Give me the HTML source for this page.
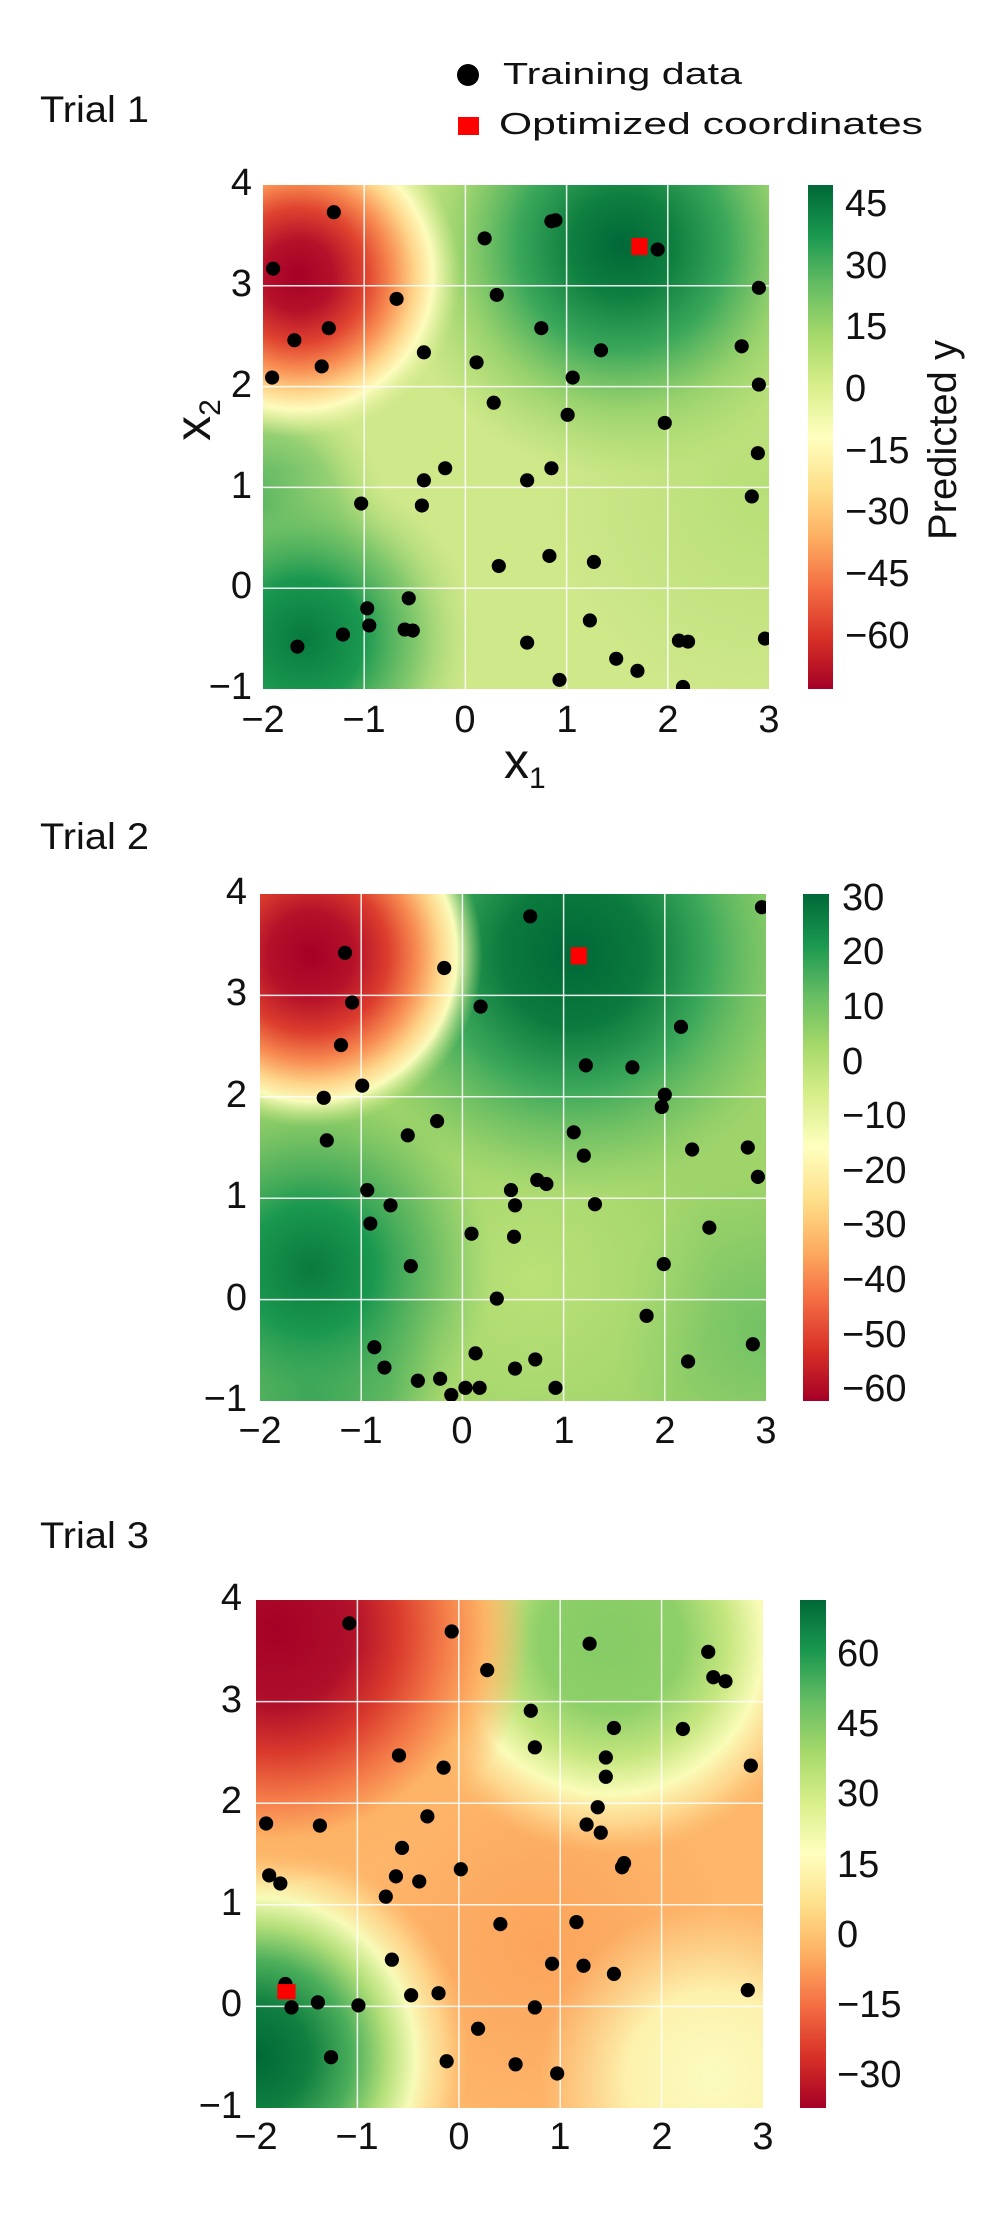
<!DOCTYPE html>
<html><head><meta charset="utf-8"><style>
html,body{margin:0;padding:0;background:#fff;}
svg text{font-family:"Liberation Sans",sans-serif;fill:#111;}
</style></head><body>
<svg width="1000" height="2211" viewBox="0 0 1000 2211" xmlns="http://www.w3.org/2000/svg">
<defs>
<linearGradient id="cmap" x1="0" y1="1" x2="0" y2="0">
<stop offset="0" stop-color="#a50026"/><stop offset="0.1" stop-color="#d73027"/><stop offset="0.2" stop-color="#f46d43"/><stop offset="0.3" stop-color="#fdae61"/><stop offset="0.4" stop-color="#fee08b"/><stop offset="0.5" stop-color="#ffffbf"/><stop offset="0.6" stop-color="#d9ef8b"/><stop offset="0.7" stop-color="#a6d96a"/><stop offset="0.8" stop-color="#66bd63"/><stop offset="0.9" stop-color="#1a9850"/><stop offset="1" stop-color="#006837"/>
</linearGradient>
<!-- plot1 -->
<radialGradient id="p1g1" gradientUnits="userSpaceOnUse" cx="1.55" cy="-3.4" r="2.3"><stop offset="0" stop-color="#006837"/><stop offset="0.22" stop-color="#0f7f40"/><stop offset="0.45" stop-color="#3aa75a"/><stop offset="0.7" stop-color="#8ccd67" stop-opacity="0.8"/><stop offset="1" stop-color="#a6d96a" stop-opacity="0"/></radialGradient>
<radialGradient id="p1g2" gradientUnits="userSpaceOnUse" cx="-1.6" cy="0.5" r="1.7"><stop offset="0" stop-color="#077a3d"/><stop offset="0.35" stop-color="#1a9850"/><stop offset="0.65" stop-color="#6cbf64" stop-opacity="0.8"/><stop offset="1" stop-color="#b5de7a" stop-opacity="0"/></radialGradient>
<radialGradient id="p1g4" gradientUnits="userSpaceOnUse" cx="-2.0" cy="-0.8" r="1.2"><stop offset="0" stop-color="#3aa75a"/><stop offset="0.6" stop-color="#6cbf64" stop-opacity="0.6"/><stop offset="1" stop-color="#a6d96a" stop-opacity="0"/></radialGradient>
<radialGradient id="p1g3" gradientUnits="userSpaceOnUse" cx="3" cy="-1" r="2.2"><stop offset="0" stop-color="#b0dc72" stop-opacity="0.8"/><stop offset="1" stop-color="#b0dc72" stop-opacity="0"/></radialGradient>
<radialGradient id="p1r" gradientUnits="userSpaceOnUse" cx="-1.65" cy="-3.1" r="1.6"><stop offset="0" stop-color="#a50026"/><stop offset="0.22" stop-color="#b5112a"/><stop offset="0.42" stop-color="#e0432f"/><stop offset="0.58" stop-color="#f88d52"/><stop offset="0.72" stop-color="#fed58a"/><stop offset="0.83" stop-color="#fdfcbd"/><stop offset="1" stop-color="#e0f09b" stop-opacity="0"/></radialGradient>
<!-- plot2 -->
<radialGradient id="p2g1" gradientUnits="userSpaceOnUse" cx="1.1" cy="-3.4" r="2.4"><stop offset="0" stop-color="#006837"/><stop offset="0.3" stop-color="#0c7b3e"/><stop offset="0.55" stop-color="#3aa75a"/><stop offset="0.8" stop-color="#6cbf64" stop-opacity="0.6"/><stop offset="1" stop-color="#8ccd67" stop-opacity="0"/></radialGradient>
<radialGradient id="p2g3" gradientUnits="userSpaceOnUse" cx="-1.5" cy="-0.3" r="1.8"><stop offset="0" stop-color="#0a7a3c"/><stop offset="0.35" stop-color="#1a9850"/><stop offset="0.65" stop-color="#4cae5c" stop-opacity="0.7"/><stop offset="1" stop-color="#6cbf64" stop-opacity="0"/></radialGradient>
<radialGradient id="p2g4" gradientUnits="userSpaceOnUse" cx="-1.5" cy="0.9" r="1.3"><stop offset="0" stop-color="#1a9850"/><stop offset="0.6" stop-color="#3aa75a" stop-opacity="0.6"/><stop offset="1" stop-color="#6cbf64" stop-opacity="0"/></radialGradient>
<radialGradient id="p2g5" gradientUnits="userSpaceOnUse" cx="3" cy="0.3" r="1.5"><stop offset="0" stop-color="#66bd63" stop-opacity="0.8"/><stop offset="1" stop-color="#66bd63" stop-opacity="0"/></radialGradient>
<radialGradient id="p2l" gradientUnits="userSpaceOnUse" cx="0.7" cy="-0.2" r="1.8"><stop offset="0" stop-color="#bde37a" stop-opacity="0.9"/><stop offset="1" stop-color="#bde37a" stop-opacity="0"/></radialGradient>
<radialGradient id="p2r" gradientUnits="userSpaceOnUse" cx="-1.5" cy="-3.4" r="1.7"><stop offset="0" stop-color="#a50026"/><stop offset="0.25" stop-color="#b5112a"/><stop offset="0.45" stop-color="#dc3d2d"/><stop offset="0.62" stop-color="#f88d52"/><stop offset="0.75" stop-color="#fed58a"/><stop offset="0.85" stop-color="#fafcbc"/><stop offset="1" stop-color="#c6e682" stop-opacity="0"/></radialGradient>
<!-- plot3 -->
<radialGradient id="p3o" gradientUnits="userSpaceOnUse" cx="0.8" cy="-0.6" r="1.8"><stop offset="0" stop-color="#fca45c"/><stop offset="1" stop-color="#fca45c" stop-opacity="0"/></radialGradient>
<radialGradient id="p3r" gradientUnits="userSpaceOnUse" cx="-1.8" cy="-3.7" r="2.5"><stop offset="0" stop-color="#a50026"/><stop offset="0.3" stop-color="#b0102a"/><stop offset="0.48" stop-color="#d9392c"/><stop offset="0.66" stop-color="#f47a48"/><stop offset="0.82" stop-color="#fdb365"/><stop offset="1" stop-color="#fdb365" stop-opacity="0"/></radialGradient>
<radialGradient id="p3g" gradientUnits="userSpaceOnUse" cx="1.5" cy="-3.6" r="2.1"><stop offset="0" stop-color="#86cb66"/><stop offset="0.33" stop-color="#8dcf68"/><stop offset="0.55" stop-color="#c5e67f"/><stop offset="0.72" stop-color="#fafcb8"/><stop offset="0.86" stop-color="#fee49c" stop-opacity="0.7"/><stop offset="1" stop-color="#fdd183" stop-opacity="0"/></radialGradient>
<radialGradient id="p3b" gradientUnits="userSpaceOnUse" cx="-2.0" cy="0.5" r="2.1"><stop offset="0" stop-color="#006837"/><stop offset="0.25" stop-color="#107f40"/><stop offset="0.45" stop-color="#4bae5b"/><stop offset="0.62" stop-color="#b5e07a"/><stop offset="0.75" stop-color="#f7fbb8"/><stop offset="0.88" stop-color="#fee39a" stop-opacity="0.7"/><stop offset="1" stop-color="#fdd183" stop-opacity="0"/></radialGradient>
<radialGradient id="p3y" gradientUnits="userSpaceOnUse" cx="2.5" cy="0.7" r="1.7"><stop offset="0" stop-color="#fbfcc0"/><stop offset="0.5" stop-color="#fdf1ac"/><stop offset="1" stop-color="#fde3a0" stop-opacity="0"/></radialGradient>
</defs>

<!-- Titles & legend -->
<text x="40" y="122" font-size="37" textLength="109" lengthAdjust="spacingAndGlyphs">Trial 1</text>
<text x="40" y="849" font-size="37" textLength="109" lengthAdjust="spacingAndGlyphs">Trial 2</text>
<text x="40" y="1548" font-size="37" textLength="109" lengthAdjust="spacingAndGlyphs">Trial 3</text>
<ellipse cx="468" cy="75" rx="11" ry="11" fill="#000"/>
<text x="503" y="84" font-size="31" textLength="239" lengthAdjust="spacingAndGlyphs">Training data</text>
<rect x="458" y="117" width="21" height="18" fill="#ff0000"/>
<text x="499" y="134" font-size="31" textLength="424" lengthAdjust="spacingAndGlyphs">Optimized coordinates</text>

<!-- PLOT 1 -->
<svg x="263" y="185" width="506" height="504" viewBox="-2 -4 5 5" preserveAspectRatio="none">
<rect x="-2" y="-4" width="5" height="5" fill="#cfe88a"/>
<rect x="-2" y="-4" width="5" height="5" fill="url(#p1g3)"/>
<rect x="-2" y="-4" width="5" height="5" fill="url(#p1g1)"/>
<rect x="-2" y="-4" width="5" height="5" fill="url(#p1g4)"/>
<rect x="-2" y="-4" width="5" height="5" fill="url(#p1g2)"/>
<rect x="-2" y="-4" width="5" height="5" fill="url(#p1r)"/>
<g stroke="#fff" stroke-width="1.5" opacity="0.9">
<line x1="-1" y1="-4" x2="-1" y2="1" vector-effect="non-scaling-stroke"/><line x1="0" y1="-4" x2="0" y2="1" vector-effect="non-scaling-stroke"/><line x1="1" y1="-4" x2="1" y2="1" vector-effect="non-scaling-stroke"/><line x1="2" y1="-4" x2="2" y2="1" vector-effect="non-scaling-stroke"/>
<line x1="-2" y1="-3" x2="3" y2="-3" vector-effect="non-scaling-stroke"/><line x1="-2" y1="-2" x2="3" y2="-2" vector-effect="non-scaling-stroke"/><line x1="-2" y1="-1" x2="3" y2="-1" vector-effect="non-scaling-stroke"/><line x1="-2" y1="0" x2="3" y2="0" vector-effect="non-scaling-stroke"/>
</g>
<rect x="1.64" y="-3.475" width="0.16" height="0.17" fill="#ff0000"/>
<g fill="#000">
<circle cx="-1.30" cy="-3.73" r="0.07"/><circle cx="-1.90" cy="-3.17" r="0.07"/><circle cx="-0.68" cy="-2.87" r="0.07"/><circle cx="-1.35" cy="-2.58" r="0.07"/><circle cx="-1.69" cy="-2.46" r="0.07"/><circle cx="-1.42" cy="-2.20" r="0.07"/><circle cx="-1.91" cy="-2.09" r="0.07"/><circle cx="-0.41" cy="-2.34" r="0.07"/><circle cx="0.19" cy="-3.47" r="0.07"/><circle cx="0.85" cy="-3.64" r="0.07"/><circle cx="0.89" cy="-3.65" r="0.07"/><circle cx="1.90" cy="-3.36" r="0.07"/><circle cx="0.31" cy="-2.91" r="0.07"/><circle cx="0.75" cy="-2.58" r="0.07"/><circle cx="1.34" cy="-2.36" r="0.07"/><circle cx="0.11" cy="-2.24" r="0.07"/><circle cx="1.06" cy="-2.09" r="0.07"/><circle cx="0.28" cy="-1.84" r="0.07"/><circle cx="1.01" cy="-1.72" r="0.07"/><circle cx="1.97" cy="-1.64" r="0.07"/><circle cx="2.90" cy="-2.98" r="0.07"/><circle cx="2.73" cy="-2.40" r="0.07"/><circle cx="2.90" cy="-2.02" r="0.07"/><circle cx="2.89" cy="-1.34" r="0.07"/><circle cx="2.83" cy="-0.91" r="0.07"/><circle cx="-0.20" cy="-1.19" r="0.07"/><circle cx="-0.41" cy="-1.07" r="0.07"/><circle cx="-1.03" cy="-0.84" r="0.07"/><circle cx="-0.43" cy="-0.82" r="0.07"/><circle cx="0.61" cy="-1.07" r="0.07"/><circle cx="0.85" cy="-1.19" r="0.07"/><circle cx="0.33" cy="-0.22" r="0.07"/><circle cx="0.83" cy="-0.32" r="0.07"/><circle cx="1.27" cy="-0.26" r="0.07"/><circle cx="-0.56" cy="0.10" r="0.07"/><circle cx="-0.97" cy="0.20" r="0.07"/><circle cx="-0.95" cy="0.37" r="0.07"/><circle cx="-0.60" cy="0.41" r="0.07"/><circle cx="-0.52" cy="0.42" r="0.07"/><circle cx="-1.21" cy="0.46" r="0.07"/><circle cx="-1.66" cy="0.58" r="0.07"/><circle cx="1.23" cy="0.32" r="0.07"/><circle cx="0.61" cy="0.54" r="0.07"/><circle cx="2.11" cy="0.52" r="0.07"/><circle cx="2.20" cy="0.53" r="0.07"/><circle cx="2.96" cy="0.50" r="0.07"/><circle cx="1.49" cy="0.70" r="0.07"/><circle cx="1.70" cy="0.82" r="0.07"/><circle cx="0.93" cy="0.91" r="0.07"/><circle cx="2.15" cy="0.98" r="0.07"/>
</g>
</svg>
<rect x="808" y="185" width="25" height="504" fill="url(#cmap)"/>
<g font-size="38" text-anchor="end">
<text x="252" y="195">4</text><text x="252" y="296">3</text><text x="252" y="397">2</text><text x="252" y="498">1</text><text x="252" y="598">0</text><text x="252" y="699">−1</text>
</g>
<g font-size="38" text-anchor="middle">
<text x="263" y="732">−2</text><text x="364" y="732">−1</text><text x="465" y="732">0</text><text x="567" y="732">1</text><text x="668" y="732">2</text><text x="769" y="732">3</text>
</g>
<g font-size="38">
<text x="845" y="216">45</text><text x="845" y="278">30</text><text x="845" y="339">15</text><text x="845" y="401">0</text><text x="845" y="463">−15</text><text x="845" y="524">−30</text><text x="845" y="586">−45</text><text x="845" y="648">−60</text>
</g>
<text transform="translate(956,440) rotate(-90)" font-size="40" text-anchor="middle" textLength="200" lengthAdjust="spacingAndGlyphs">Predicted y</text>
<text x="504" y="778" font-size="50">x<tspan font-size="30" dy="10">1</tspan></text>
<text transform="translate(210,420) rotate(-90)" font-size="50" text-anchor="middle">x<tspan font-size="30" dy="10">2</tspan></text>

<!-- PLOT 2 -->
<svg x="260" y="894" width="506" height="507" viewBox="-2 -4 5 5" preserveAspectRatio="none">
<rect x="-2" y="-4" width="5" height="5" fill="#9fd46a"/>
<rect x="-2" y="-4" width="5" height="5" fill="url(#p2g5)"/>
<rect x="-2" y="-4" width="5" height="5" fill="url(#p2l)"/>
<rect x="-2" y="-4" width="5" height="5" fill="url(#p2g4)"/>
<rect x="-2" y="-4" width="5" height="5" fill="url(#p2g3)"/>
<rect x="-2" y="-4" width="5" height="5" fill="url(#p2g1)"/>
<rect x="-2" y="-4" width="5" height="5" fill="url(#p2r)"/>
<g stroke="#fff" stroke-width="1.5" opacity="0.9">
<line x1="-1" y1="-4" x2="-1" y2="1" vector-effect="non-scaling-stroke"/><line x1="0" y1="-4" x2="0" y2="1" vector-effect="non-scaling-stroke"/><line x1="1" y1="-4" x2="1" y2="1" vector-effect="non-scaling-stroke"/><line x1="2" y1="-4" x2="2" y2="1" vector-effect="non-scaling-stroke"/>
<line x1="-2" y1="-3" x2="3" y2="-3" vector-effect="non-scaling-stroke"/><line x1="-2" y1="-2" x2="3" y2="-2" vector-effect="non-scaling-stroke"/><line x1="-2" y1="-1" x2="3" y2="-1" vector-effect="non-scaling-stroke"/><line x1="-2" y1="0" x2="3" y2="0" vector-effect="non-scaling-stroke"/>
</g>
<rect x="1.07" y="-3.475" width="0.16" height="0.17" fill="#ff0000"/>
<g fill="#000">
<circle cx="0.67" cy="-3.78" r="0.07"/><circle cx="2.96" cy="-3.87" r="0.07"/><circle cx="-1.16" cy="-3.42" r="0.07"/><circle cx="-0.18" cy="-3.27" r="0.07"/><circle cx="-1.09" cy="-2.93" r="0.07"/><circle cx="0.18" cy="-2.89" r="0.07"/><circle cx="2.16" cy="-2.69" r="0.07"/><circle cx="-1.20" cy="-2.51" r="0.07"/><circle cx="1.22" cy="-2.31" r="0.07"/><circle cx="1.68" cy="-2.29" r="0.07"/><circle cx="-0.99" cy="-2.11" r="0.07"/><circle cx="-1.37" cy="-1.99" r="0.07"/><circle cx="2.00" cy="-2.02" r="0.07"/><circle cx="1.97" cy="-1.90" r="0.07"/><circle cx="-0.25" cy="-1.76" r="0.07"/><circle cx="-0.54" cy="-1.62" r="0.07"/><circle cx="-1.34" cy="-1.57" r="0.07"/><circle cx="1.10" cy="-1.65" r="0.07"/><circle cx="1.20" cy="-1.42" r="0.07"/><circle cx="2.27" cy="-1.48" r="0.07"/><circle cx="2.82" cy="-1.50" r="0.07"/><circle cx="2.92" cy="-1.21" r="0.07"/><circle cx="0.74" cy="-1.18" r="0.07"/><circle cx="0.83" cy="-1.14" r="0.07"/><circle cx="0.48" cy="-1.08" r="0.07"/><circle cx="0.52" cy="-0.93" r="0.07"/><circle cx="1.31" cy="-0.94" r="0.07"/><circle cx="-0.94" cy="-1.08" r="0.07"/><circle cx="-0.71" cy="-0.93" r="0.07"/><circle cx="-0.91" cy="-0.75" r="0.07"/><circle cx="0.09" cy="-0.65" r="0.07"/><circle cx="0.51" cy="-0.62" r="0.07"/><circle cx="2.44" cy="-0.71" r="0.07"/><circle cx="-0.51" cy="-0.33" r="0.07"/><circle cx="1.99" cy="-0.35" r="0.07"/><circle cx="0.34" cy="-0.01" r="0.07"/><circle cx="1.82" cy="0.16" r="0.07"/><circle cx="-0.87" cy="0.47" r="0.07"/><circle cx="0.13" cy="0.53" r="0.07"/><circle cx="0.72" cy="0.59" r="0.07"/><circle cx="-0.77" cy="0.67" r="0.07"/><circle cx="0.52" cy="0.68" r="0.07"/><circle cx="2.23" cy="0.61" r="0.07"/><circle cx="2.87" cy="0.44" r="0.07"/><circle cx="-0.44" cy="0.80" r="0.07"/><circle cx="-0.22" cy="0.78" r="0.07"/><circle cx="0.03" cy="0.87" r="0.07"/><circle cx="0.17" cy="0.87" r="0.07"/><circle cx="0.92" cy="0.87" r="0.07"/><circle cx="-0.11" cy="0.94" r="0.07"/>
</g>
</svg>
<rect x="803" y="894" width="26" height="507" fill="url(#cmap)"/>
<g font-size="38" text-anchor="end">
<text x="247" y="904">4</text><text x="247" y="1005">3</text><text x="247" y="1107">2</text><text x="247" y="1208">1</text><text x="247" y="1310">0</text><text x="247" y="1411">−1</text>
</g>
<g font-size="38" text-anchor="middle">
<text x="260" y="1443">−2</text><text x="361" y="1443">−1</text><text x="462" y="1443">0</text><text x="564" y="1443">1</text><text x="665" y="1443">2</text><text x="766" y="1443">3</text>
</g>
<g font-size="38">
<text x="842" y="910">30</text><text x="842" y="964">20</text><text x="842" y="1019">10</text><text x="842" y="1074">0</text><text x="842" y="1128">−10</text><text x="842" y="1183">−20</text><text x="842" y="1237">−30</text><text x="842" y="1292">−40</text><text x="842" y="1347">−50</text><text x="842" y="1401">−60</text>
</g>

<!-- PLOT 3 -->
<svg x="256" y="1600" width="507" height="508" viewBox="-2 -4 5 5" preserveAspectRatio="none">
<rect x="-2" y="-4" width="5" height="5" fill="#fdb66a"/>
<rect x="-2" y="-4" width="5" height="5" fill="url(#p3o)"/>
<rect x="-2" y="-4" width="5" height="5" fill="url(#p3y)"/>
<rect x="-2" y="-4" width="5" height="5" fill="url(#p3g)"/>
<rect x="-2" y="-4" width="5" height="5" fill="url(#p3b)"/>
<rect x="-2" y="-4" width="5" height="5" fill="url(#p3r)"/>
<g stroke="#fff" stroke-width="1.5" opacity="0.9">
<line x1="-1" y1="-4" x2="-1" y2="1" vector-effect="non-scaling-stroke"/><line x1="0" y1="-4" x2="0" y2="1" vector-effect="non-scaling-stroke"/><line x1="1" y1="-4" x2="1" y2="1" vector-effect="non-scaling-stroke"/><line x1="2" y1="-4" x2="2" y2="1" vector-effect="non-scaling-stroke"/>
<line x1="-2" y1="-3" x2="3" y2="-3" vector-effect="non-scaling-stroke"/><line x1="-2" y1="-2" x2="3" y2="-2" vector-effect="non-scaling-stroke"/><line x1="-2" y1="-1" x2="3" y2="-1" vector-effect="non-scaling-stroke"/><line x1="-2" y1="0" x2="3" y2="0" vector-effect="non-scaling-stroke"/>
</g>
<g fill="#000">
<circle cx="-1.08" cy="-3.77" r="0.07"/><circle cx="-0.07" cy="-3.69" r="0.07"/><circle cx="1.29" cy="-3.57" r="0.07"/><circle cx="0.28" cy="-3.31" r="0.07"/><circle cx="2.46" cy="-3.49" r="0.07"/><circle cx="2.51" cy="-3.24" r="0.07"/><circle cx="2.63" cy="-3.20" r="0.07"/><circle cx="0.71" cy="-2.91" r="0.07"/><circle cx="1.53" cy="-2.74" r="0.07"/><circle cx="2.21" cy="-2.73" r="0.07"/><circle cx="0.75" cy="-2.55" r="0.07"/><circle cx="-0.59" cy="-2.47" r="0.07"/><circle cx="-0.15" cy="-2.35" r="0.07"/><circle cx="1.45" cy="-2.45" r="0.07"/><circle cx="1.45" cy="-2.26" r="0.07"/><circle cx="2.88" cy="-2.37" r="0.07"/><circle cx="1.37" cy="-1.96" r="0.07"/><circle cx="-0.31" cy="-1.87" r="0.07"/><circle cx="-1.90" cy="-1.80" r="0.07"/><circle cx="-1.37" cy="-1.78" r="0.07"/><circle cx="1.26" cy="-1.79" r="0.07"/><circle cx="1.40" cy="-1.71" r="0.07"/><circle cx="-0.56" cy="-1.56" r="0.07"/><circle cx="0.02" cy="-1.35" r="0.07"/><circle cx="1.63" cy="-1.41" r="0.07"/><circle cx="1.61" cy="-1.37" r="0.07"/><circle cx="-1.87" cy="-1.29" r="0.07"/><circle cx="-1.76" cy="-1.21" r="0.07"/><circle cx="-0.62" cy="-1.28" r="0.07"/><circle cx="-0.39" cy="-1.23" r="0.07"/><circle cx="-0.72" cy="-1.08" r="0.07"/><circle cx="0.41" cy="-0.81" r="0.07"/><circle cx="1.16" cy="-0.83" r="0.07"/><circle cx="-0.66" cy="-0.46" r="0.07"/><circle cx="0.92" cy="-0.42" r="0.07"/><circle cx="1.23" cy="-0.40" r="0.07"/><circle cx="1.53" cy="-0.32" r="0.07"/><circle cx="2.85" cy="-0.16" r="0.07"/><circle cx="-1.71" cy="-0.22" r="0.07"/><circle cx="-1.65" cy="0.01" r="0.07"/><circle cx="-1.39" cy="-0.04" r="0.07"/><circle cx="-0.99" cy="-0.01" r="0.07"/><circle cx="-0.47" cy="-0.11" r="0.07"/><circle cx="-0.20" cy="-0.13" r="0.07"/><circle cx="0.75" cy="0.01" r="0.07"/><circle cx="0.19" cy="0.22" r="0.07"/><circle cx="-1.26" cy="0.50" r="0.07"/><circle cx="-0.12" cy="0.54" r="0.07"/><circle cx="0.56" cy="0.57" r="0.07"/><circle cx="0.97" cy="0.66" r="0.07"/>
</g>
<rect x="-1.79" y="-0.22" width="0.18" height="0.15" fill="#ff0000"/>
</svg>
<rect x="800" y="1600" width="26" height="508" fill="url(#cmap)"/>
<g font-size="38" text-anchor="end">
<text x="242" y="1610">4</text><text x="242" y="1712">3</text><text x="242" y="1813">2</text><text x="242" y="1915">1</text><text x="242" y="2016">0</text><text x="242" y="2118">−1</text>
</g>
<g font-size="38" text-anchor="middle">
<text x="256" y="2149">−2</text><text x="357" y="2149">−1</text><text x="459" y="2149">0</text><text x="560" y="2149">1</text><text x="662" y="2149">2</text><text x="763" y="2149">3</text>
</g>
<g font-size="38">
<text x="837" y="1666">60</text><text x="837" y="1736">45</text><text x="837" y="1806">30</text><text x="837" y="1877">15</text><text x="837" y="1947">0</text><text x="837" y="2017">−15</text><text x="837" y="2087">−30</text>
</g>
</svg>
</body></html>
